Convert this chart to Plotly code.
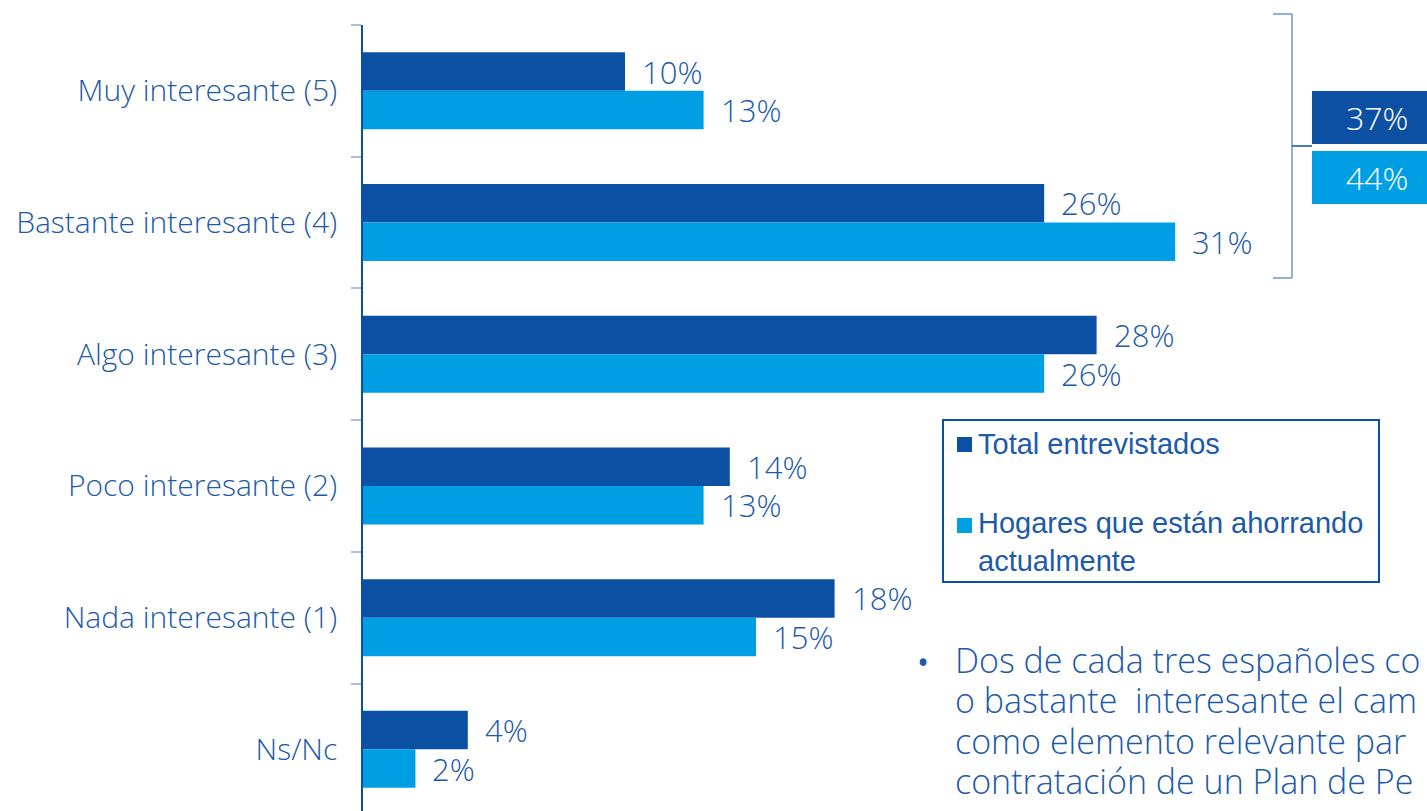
import plotly.graph_objects as go

# Survey answers (top to bottom) and shares in percent
categories = [
    "Muy interesante (5)",
    "Bastante interesante (4)",
    "Algo interesante (3)",
    "Poco interesante (2)",
    "Nada interesante (1)",
    "Ns/Nc",
]
total_entrevistados = [10, 26, 28, 14, 18, 4]
hogares_ahorrando = [13, 31, 26, 13, 15, 2]
series_names = ["Total entrevistados", "Hogares que están ahorrando<br>actualmente"]
top2_totals = [37, 44]  # Muy + Bastante interesante
bullet_lines = [
    "Dos de cada tres españoles co",
    "o bastante  interesante el cam",
    "como elemento relevante par",
    "contratación de un Plan de Pe",
]

DARK = "#0b50a3"
LIGHT = "#009fe3"
TEXT = "#1d5aa8"
FONT = "Open Sans"

W, H = 1427, 811
L, R, T, B = 363, 0, 25, 0
PW, PH = W - L - R, H - T - B


def px(x):
    return (x - L) / PW


def py(y):
    return 1 - (y - T) / PH


fig = go.Figure()
fig.add_trace(go.Bar(y=categories, x=total_entrevistados, orientation="h",
                     marker=dict(color=DARK, line=dict(width=0)), name=series_names[0]))
fig.add_trace(go.Bar(y=categories, x=hogares_ahorrando, orientation="h",
                     marker=dict(color=LIGHT, line=dict(width=0)), name=series_names[1]))

annotations = []
shapes = []
bargap = 0.415
half = (1 - bargap) / 4  # offset of each bar centre from the category centre
for i in range(len(categories)):
    for vals, off in ((total_entrevistados, -half), (hogares_ahorrando, half)):
        annotations.append(dict(
            x=vals[i], y=i + off, xref="x", yref="y", text=f"{vals[i]}%",
            showarrow=False, xanchor="left", yanchor="middle", xshift=15,
            font=dict(family=FONT, size=31, color=TEXT, weight=300),
        ))

# Bracket grouping the two top answers
bc = "#6d96d3"
shapes += [
    dict(type="line", xref="paper", yref="paper", x0=px(1292), x1=px(1292), y0=py(14), y1=py(278),
         line=dict(color=bc, width=1.5)),
    dict(type="line", xref="paper", yref="paper", x0=px(1273), x1=px(1292), y0=py(14), y1=py(14),
         line=dict(color=bc, width=1.5)),
    dict(type="line", xref="paper", yref="paper", x0=px(1273), x1=px(1292), y0=py(278), y1=py(278),
         line=dict(color=bc, width=1.5)),
    dict(type="line", xref="paper", yref="paper", x0=px(1292), x1=px(1312), y0=py(146), y1=py(146),
         line=dict(color=DARK, width=1.5)),
]
for (y0, y1), col, val in zip(((91, 144), (151, 204)), (DARK, LIGHT), top2_totals):
    shapes.append(dict(type="rect", xref="paper", yref="paper", x0=px(1312), x1=px(1440),
                       y0=py(y1), y1=py(y0), fillcolor=col, line=dict(width=0)))
    annotations.append(dict(x=px(1377), y=py((y0 + y1) / 2), xref="paper", yref="paper",
                            text=f"{val}%", showarrow=False, xanchor="center", yanchor="middle",
                            font=dict(family=FONT, size=32, color="white", weight=300)))

# Legend box
shapes.append(dict(type="rect", xref="paper", yref="paper", x0=px(943), x1=px(1379),
                   y0=py(582), y1=py(420), fillcolor="white", line=dict(color=DARK, width=2)))
for (sy0, sy1), col in zip(((437, 452), (518, 533)), (DARK, LIGHT)):
    shapes.append(dict(type="rect", xref="paper", yref="paper", x0=px(957), x1=px(972),
                       y0=py(sy1), y1=py(sy0), fillcolor=col, line=dict(width=0)))
annotations.append(dict(x=px(976), y=py(444), xref="paper", yref="paper", text=series_names[0],
                        showarrow=False, xanchor="left", yanchor="middle", align="left",
                        font=dict(family="Liberation Sans", size=29, color=TEXT)))
annotations.append(dict(x=px(976), y=py(505), xref="paper", yref="paper", text=series_names[1],
                        showarrow=False, xanchor="left", yanchor="top", align="left",
                        font=dict(family="Liberation Sans", size=29, color=TEXT)))

# Bullet comment: line spacing follows the 31px base size, glyphs drawn at 34px
annotations.append(dict(x=px(915), y=py(661), xref="paper", yref="paper", text="•",
                        showarrow=False, xanchor="left", yanchor="middle",
                        font=dict(family=FONT, size=32, color=TEXT)))
bullet_text = "<br>".join(f'<span style="font-size:34px">{s}</span>' for s in bullet_lines)
annotations.append(dict(x=px(953), y=py(720), xref="paper", yref="paper", text=bullet_text,
                        showarrow=False, xanchor="left", yanchor="middle", align="left",
                        font=dict(family=FONT, size=31, color=TEXT, weight=300)))

fig.update_layout(
    width=W, height=H,
    margin=dict(l=L, r=R, t=T, b=B, pad=0),
    paper_bgcolor="white", plot_bgcolor="white",
    barmode="group", bargap=bargap, bargroupgap=0,
    showlegend=False,
    xaxis=dict(range=[0, PW / 26.2], visible=False, fixedrange=True),
    yaxis=dict(
        type="category", range=[-0.5 + PH / 131.7, -0.5],
        showline=True, linecolor=DARK, linewidth=1.5,
        ticks="outside", tickson="boundaries", ticklen=10, tickcolor="#a9bfdf", tickwidth=1.5,
        ticklabelstandoff=18, showgrid=False, zeroline=False,
        tickfont=dict(family=FONT, size=30, color=TEXT, weight=300),
    ),
    annotations=annotations, shapes=shapes,
)

fig.write_html("out.html")
